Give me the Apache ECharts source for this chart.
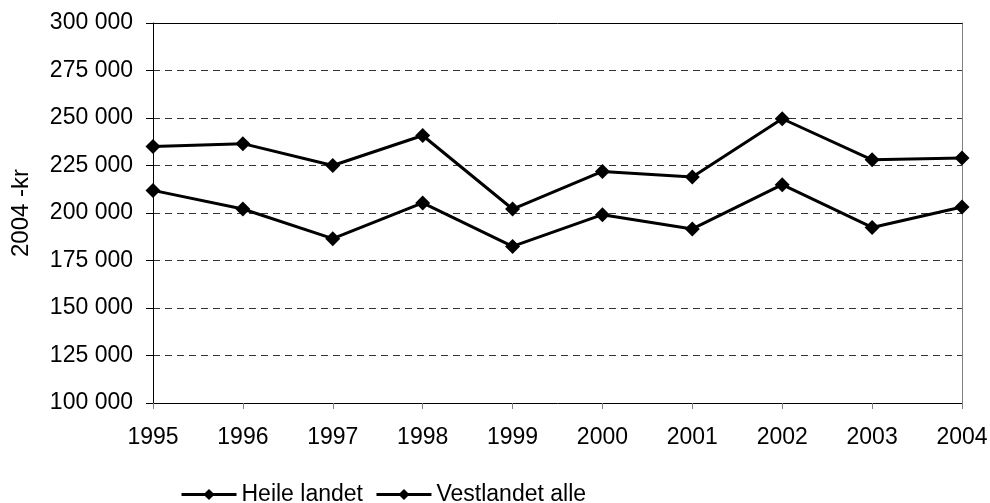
<!DOCTYPE html>
<html>
<head>
<meta charset="utf-8">
<title>2004 -kr</title>
<script src="https://cdn.jsdelivr.net/npm/echarts@6/dist/echarts.min.js"></script>
<style>
  html, body { margin: 0; padding: 0; background: #fff; }
  #chartBox { width: 990px; height: 503px; }
</style>
</head>
<body>
<div id="chartBox"></div>
<script>
  // 数据
  let years = ['1995', '1996', '1997', '1998', '1999', '2000', '2001', '2002', '2003', '2004']
  let seriesNames = ['Heile landet', 'Vestlandet alle']
  let heileLandet = [235000, 236500, 225000, 240800, 202100, 221900, 218900, 249600, 228000, 228900]
  let vestlandetAlle = [211900, 202100, 186500, 205300, 182400, 199100, 191600, 214900, 192400, 203200]
  let yTicks = [100000, 125000, 150000, 175000, 200000, 225000, 250000, 275000, 300000]

  let fontFamily = '"Liberation Sans", Arial, sans-serif'

  // 300000 -> '300 000'
  function fmt (value) {
    return String(value).replace(/\B(?=(\d{3})+(?!\d))/g, ' ')
  }

  let myChart = echarts.init(document.getElementById('chartBox'))

  let option = {
    animation: false,
    textStyle: { fontFamily: fontFamily, color: '#000' },
    grid: {
      left: 153,
      right: 28,
      top: 23,
      bottom: 100,
      containLabel: false,
      outerBoundsMode: 'none'
    },
    legend: {
      left: 175,
      top: 478,
      itemWidth: 55,
      itemHeight: 14,
      itemGap: 12,
      textStyle: { fontSize: 23, color: '#000', fontFamily: fontFamily },
      lineStyle: { width: 3 },
      data: seriesNames
    },
    xAxis: [
      {
        type: 'category',
        boundaryGap: false,
        data: years,
        axisLine: { lineStyle: { color: '#000', width: 1 } },
        axisTick: { show: true, length: 6, lineStyle: { color: '#808080' } },
        axisLabel: { fontSize: 23, color: '#000', margin: 23 },
        splitLine: { show: false }
      },
      {
        // 上边框
        type: 'category',
        position: 'top',
        boundaryGap: false,
        data: years,
        axisLine: { show: true, lineStyle: { color: '#000', width: 1 } },
        axisTick: { show: false },
        axisLabel: { show: false },
        splitLine: { show: false }
      }
    ],
    yAxis: [
      {
        type: 'value',
        min: yTicks[0],
        max: yTicks[yTicks.length - 1],
        interval: 25000,
        name: '2004 -kr',
        nameLocation: 'middle',
        nameGap: 120,
        nameRotate: 90,
        nameTextStyle: { fontSize: 24, color: '#000' },
        axisLine: { show: true, lineStyle: { color: '#000', width: 1 } },
        axisTick: { show: true, length: 7, lineStyle: { color: '#000' } },
        axisLabel: { fontSize: 23, color: '#000', margin: 20, formatter: fmt },
        splitLine: {
          show: true,
          lineStyle: { color: '#333', width: 1, type: [7, 5] }
        }
      },
      {
        // 右边框
        type: 'value',
        position: 'right',
        min: yTicks[0],
        max: yTicks[yTicks.length - 1],
        interval: 25000,
        axisLine: { show: true, lineStyle: { color: '#808080', width: 1 } },
        axisTick: { show: false },
        axisLabel: { show: false },
        splitLine: { show: false }
      }
    ],
    series: [
      {
        name: seriesNames[0],
        type: 'line',
        data: heileLandet,
        symbol: 'diamond',
        symbolSize: 15,
        lineStyle: { color: '#000', width: 3 },
        itemStyle: { color: '#000' }
      },
      {
        name: seriesNames[1],
        type: 'line',
        data: vestlandetAlle,
        symbol: 'diamond',
        symbolSize: 15,
        lineStyle: { color: '#000', width: 3 },
        itemStyle: { color: '#000' }
      }
    ]
  }

  myChart.setOption(option)
</script>
</body>
</html>
